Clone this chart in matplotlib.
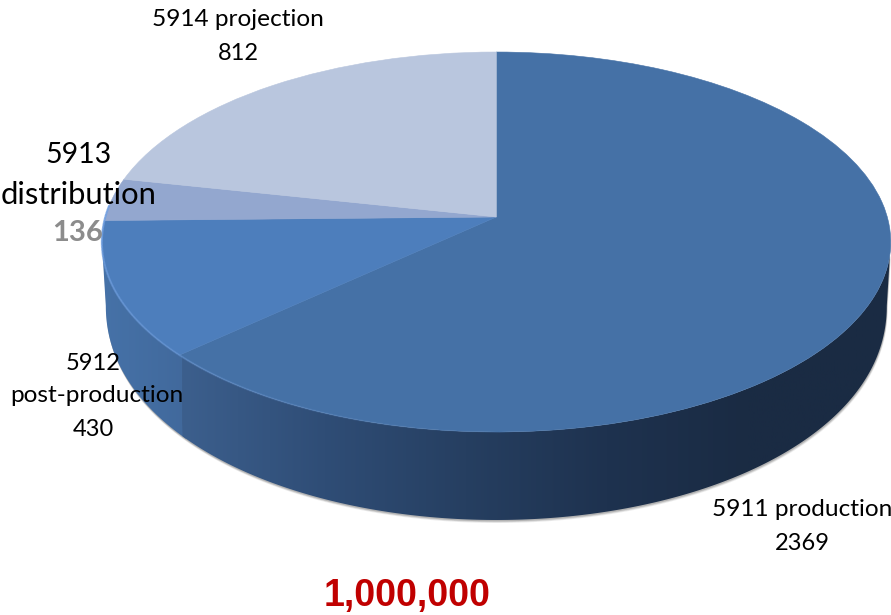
import numpy as np
import matplotlib
matplotlib.use("Agg")
import matplotlib.pyplot as plt
from matplotlib.transforms import Transform
from matplotlib.patches import Polygon
from matplotlib.colors import LinearSegmentedColormap

categories = ["5911 production", "5912\npost-production", "5913\ndistribution", "5914 projection"]
values = [2369, 430, 136, 812]
top_colors = ["#4571a6", "#4d7ebc", "#93a7cf", "#b9c6de"]
total_label = "1,000,000"

CX, CY, A, B, K = 496.3, 217.0, 391.0, 186.7, 0.1316


def project(u, v):
    w = 1 + K * v
    return CX + A * u / w, CY - B * v / w


def project_low(u, v):
    x, y = project(u, v)
    x = CX + (x - CX) * 0.99
    return x, y + 50 + 38 * np.sqrt(np.abs(v))


class Tilt(Transform):
    input_dims = output_dims = 2
    is_separable = False
    has_inverse = False

    def transform_non_affine(self, pts):
        pts = np.asarray(pts, float)
        x, y = project(pts[:, 0], pts[:, 1])
        return np.column_stack([x, y])


fig = plt.figure(figsize=(8.91, 6.15), dpi=100, facecolor="white")
ax = fig.add_axes([0, 0, 1, 1])

wedges, _ = ax.pie(values, colors=top_colors, startangle=90, counterclock=False, radius=1.0)
tilt = Tilt()
for w, c in zip(wedges, top_colors):
    w.set_transform(tilt + ax.transData)
    w.set_edgecolor(c)
    w.set_linewidth(0.4)
    w.set_zorder(5)
    w.set_clip_on(False)

# rim geometry follows the slice boundaries
frac = np.cumsum(values) / np.sum(values)
split = np.radians(90 - 360 * frac[0])          # production / post-production boundary
left_end = np.pi + np.arcsin(K)                 # widest point, left
right_end = 2 * np.pi - np.arcsin(K)            # widest point, right
split = split % (2 * np.pi)


def side_poly(t0, t1):
    t = np.linspace(t0, t1, 200)
    xt, yt = project(np.cos(t), np.sin(t))
    xl, yl = project_low(np.cos(t), np.sin(t))
    return np.column_stack([np.r_[xt, xl[::-1]], np.r_[yt, yl[::-1]]])


# soft shadow under the lower rim
for off, al in [(3.0, 0.10), (2.2, 0.15), (1.4, 0.22)]:
    p = side_poly(left_end, right_end)
    p = p + np.array([off * 0.3, off])
    ax.add_patch(Polygon(p, closed=True, fc="#444444", ec="none", alpha=al, zorder=1))

grad_l = LinearSegmentedColormap.from_list("gl", ["#4672a8", "#41699c"])
grad_r = LinearSegmentedColormap.from_list(
    "gr", ["#3c5f8d", "#2f4d76", "#263f61", "#1e324f", "#1a2b43", "#1a2b43"])

for t0, t1, cmap, ext in [
    (left_end, split + 0.02, grad_l, (101, 186)),
    (split, right_end, grad_r, (182, 891)),
]:
    poly = Polygon(side_poly(t0, t1), closed=True, fc="none", ec="none",
                   transform=ax.transData, zorder=2)
    ax.add_patch(poly)
    im = ax.imshow(np.linspace(0, 1, 256)[None, :], cmap=cmap, aspect="auto",
                   extent=(ext[0], ext[1], 560, 180), zorder=2)
    im.set_clip_path(poly)

# light edge along the front-left rim, fading to the right
t = np.linspace(np.pi * 0.98, 2 * np.pi * 0.78, 120)
xr, yr = project(np.cos(t), np.sin(t))
for i in range(len(t) - 1):
    al = 0.85 * (1 - i / (len(t) - 1)) ** 1.5
    ax.plot(xr[i:i + 2], yr[i:i + 2], color="#6f9fe2", lw=1.5, alpha=al, zorder=6,
            solid_capstyle="butt")

ax.set_aspect("auto")
ax.set_xlim(0, 891)
ax.set_ylim(615, 0)
ax.axis("off")

F = ["Lato", "DejaVu Sans"]
word = dict(ha="center", va="center", family=F, fontsize=17.6, color="#000000", zorder=10)
num = dict(ha="center", va="center", family=F, fontsize=17.0, color="#000000", zorder=10)

ax.text(238, 20, categories[3], **word)
ax.text(238, 53, f"{values[3]}", **num)
a, b = categories[2].split("\n")
ax.text(78.5, 155, a, ha="center", va="center", family=F, fontsize=20.5, color="#000000", zorder=10)
ax.text(79, 195, b, ha="center", va="center", family=F, fontsize=22.3, color="#000000", zorder=10)
ax.text(78, 233, f"{values[2]}", ha="center", va="center", family=F, fontsize=21,
        fontweight="bold", color="#8c8c8c", zorder=10)
a, b = categories[1].split("\n")
ax.text(93, 363, a, **num)
ax.text(97, 396, b, **word)
ax.text(93, 429, f"{values[1]}", **num)
ax.text(802, 510, categories[0], **word)
ax.text(802, 543, f"{values[0]}", **num)
ax.text(407, 596, total_label, ha="center", va="center", family="Liberation Sans",
        fontsize=27, fontweight="bold", color="#c00000", zorder=10)

fig.savefig("out.png", dpi=100)
